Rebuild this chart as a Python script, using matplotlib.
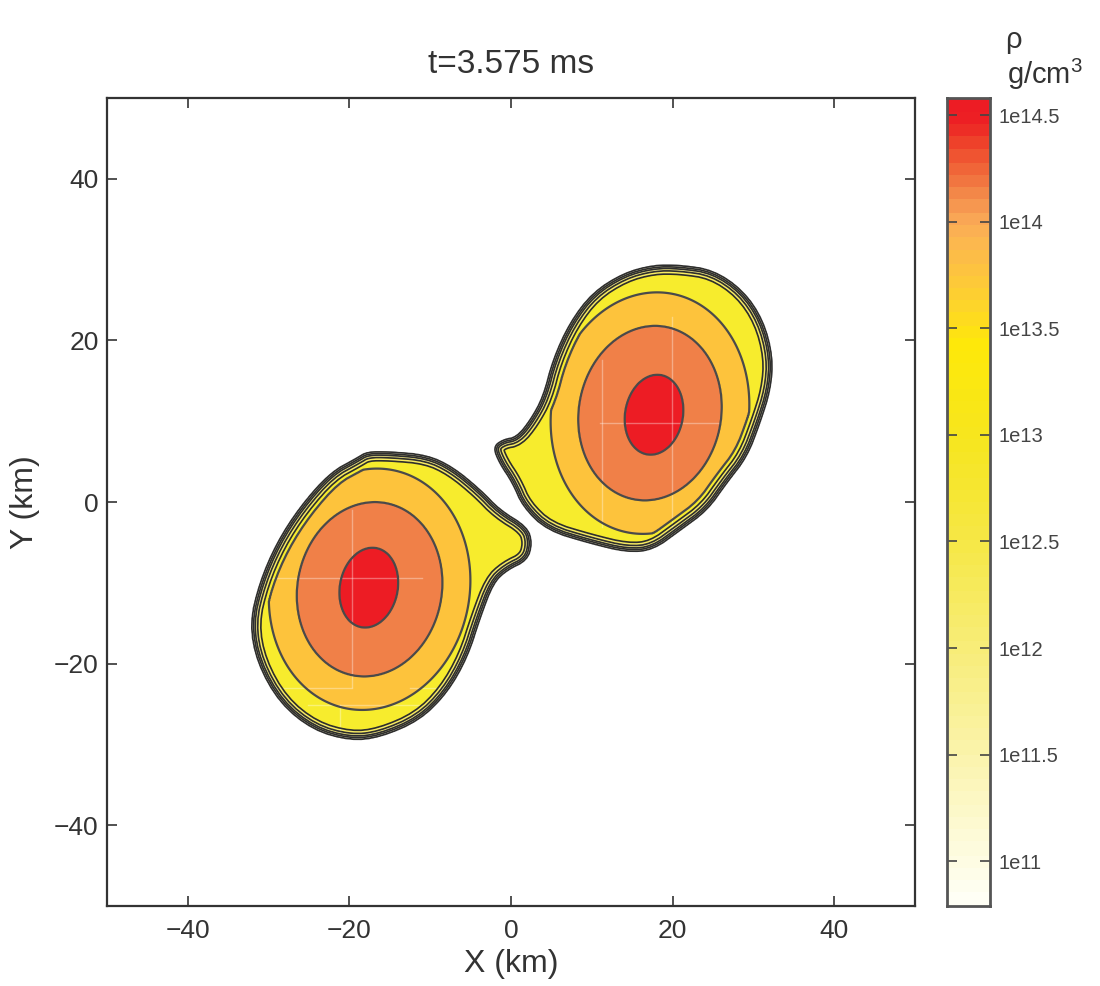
import numpy as np
import matplotlib
matplotlib.use("Agg")
import matplotlib.pyplot as plt
from matplotlib.path import Path
from matplotlib.colors import LinearSegmentedColormap

plt.rcParams['font.family'] = ['Liberation Sans', 'DejaVu Sans']
plt.rcParams['mathtext.fontset'] = 'custom'
plt.rcParams['mathtext.rm'] = 'Liberation Sans'
plt.rcParams['mathtext.it'] = 'Liberation Sans:italic'

# ---------------- data ----------------
title = "t=3.575 ms"
x_label = "X (km)"
y_label = "Y (km)"
axis_ticks = [-40, -20, 0, 20, 40]

# interior density ellipses of the two stars (km)
star_cx = [-17.5, 17.2]
star_cy = [-10.8, 11.0]
star_a = [14.9, 14.7]
star_b = [18.1, 18.1]
star_tilt = [11.0, 10.0]
# dense cores (km)
core_cx = [-17.6, 17.7]
core_cy = [-10.6, 10.8]
core_a = [13.8, 13.8]
core_b = [19.2, 19.2]

# outer surfaces (km)
outline1_x = [-17.8, -15.0, -10.4, -7.2, -3.8, -1.4, 2.0, 2.6, 2.0, -0.5, -2.2, -3.8,
              -5.4, -7.9, -11.3, -16.2, -19.9, -24.5, -28.6, -31.4, -32.3, -31.1,
              -29.0, -26.1, -22.4, -19.1]
outline1_y = [6.2, 6.2, 5.8, 4.3, 1.5, -1.0, -3.1, -5.1, -7.2, -8.4, -10.0, -14.2,
              -19.2, -23.6, -27.0, -29.1, -29.5, -28.2, -24.9, -19.9, -15.0, -10.0,
              -5.1, -0.6, 3.6, 5.4]
outline2_x = [20.9, 25.0, 28.7, 31.2, 32.4, 32.1, 30.8, 29.2, 26.7, 24.3, 20.9, 17.6,
              14.4, 9.8, 4.5, 1.5, 0.2, -1.4, -2.2, -1.0, 0.7, 2.4, 4.0, 5.2, 7.3,
              10.1, 13.9, 17.6]
outline2_y = [29.3, 28.7, 26.2, 22.5, 17.9, 13.9, 9.8, 5.6, 2.4, -1.0, -3.5, -5.9,
              -6.2, -5.1, -3.5, -0.6, 2.4, 4.8, 6.8, 7.7, 8.0, 10.1, 13.0, 17.6,
              22.2, 25.9, 28.3, 29.3]

# log10 density profiles
profile_q = [0.0, 0.26, 0.60, 0.83, 1.0, 1.5, 3.0]
profile_logrho = [14.62, 14.5, 14.2, 13.8, 13.5, 13.2, 13.1]
edge_d = [-0.6, 0.0, 0.2, 0.4, 0.7, 1.1, 3.0]
edge_logrho = [10.3, 11.0, 11.5, 12.0, 12.5, 13.0, 16.0]

# faint mesh-refinement boundaries (km): x0, x1, y0, y1
mesh_x0 = [-30.2, -19.7, -29.5, -25.1, -21.2, -12.5, 19.9, 11.0, 11.3]
mesh_x1 = [-11.0, -19.7, -19.7, -11.3, -21.2, -7.2, 19.9, 25.9, 11.3]
mesh_y0 = [-9.4, -1.0, -23.0, -25.1, -25.1, -23.0, 22.9, 9.8, 17.6]
mesh_y1 = [-9.4, -22.9, -23.0, -25.1, -29.5, -23.0, -5.9, 9.8, -3.1]

levels = [11.0, 11.5, 12.0, 12.5, 13.0, 13.8, 14.2, 14.5, 17.0]
band_colors = ['#fcf8d4', '#faf3ac', '#f8ee86', '#f8ec62', '#f7ec2d',
               '#fdc33c', '#f08048', '#ed1c24']

cbar_min, cbar_max = 10.79, 14.58
cbar_ticks = [11, 11.5, 12, 12.5, 13, 13.5, 14, 14.5]
cbar_ticklabels = ['1e11', '1e11.5', '1e12', '1e12.5', '1e13', '1e13.5', '1e14', '1e14.5']
cmap_pos = [10.79, 11.0, 11.5, 12.0, 12.5, 13.0, 13.2, 13.45, 13.6, 13.8, 13.95,
            14.05, 14.15, 14.25, 14.35, 14.42, 14.5, 14.58]
cmap_cols = ['#fffff5', '#fefce1', '#fbf4aa', '#f8ed78', '#f6e846', '#f7e61e',
             '#fae814', '#ffe80a', '#fed728', '#fdc341', '#fcb652', '#f9a456',
             '#f48a4a', '#f16d3c', '#ef5230', '#ee3a28', '#ed2024', '#ed1c24']

# ---------------- field construction ----------------
gx = np.linspace(-50, 50, 1001)
gy = np.linspace(-50, 50, 1001)
X, Y = np.meshgrid(gx, gy)
pts = np.column_stack([X.ravel(), Y.ravel()])


def chaikin(px, py, n_iter=2):
    P = np.column_stack([px, py])
    for _ in range(n_iter):
        Q = 0.75 * P + 0.25 * np.roll(P, -1, axis=0)
        R = 0.25 * P + 0.75 * np.roll(P, -1, axis=0)
        P = np.empty((2 * len(Q), 2))
        P[0::2] = Q
        P[1::2] = R
    return P[:, 0], P[:, 1]


def signed_distance(px, py):
    vx, vy = chaikin(np.asarray(px, float), np.asarray(py, float))
    path = Path(np.column_stack([vx, vy]))
    inside = path.contains_points(pts).reshape(X.shape)
    dmin = np.full(X.shape, np.inf)
    n = len(vx)
    for i in range(n):
        x0, y0 = vx[i], vy[i]
        x1, y1 = vx[(i + 1) % n], vy[(i + 1) % n]
        ex, ey = x1 - x0, y1 - y0
        L2 = ex * ex + ey * ey
        if L2 == 0:
            continue
        t = np.clip(((X - x0) * ex + (Y - y0) * ey) / L2, 0, 1)
        d = np.hypot(X - (x0 + t * ex), Y - (y0 + t * ey))
        dmin = np.minimum(dmin, d)
    return np.where(inside, dmin, -dmin)


def ellip_q(cx, cy, a, b, tilt):
    tr = np.deg2rad(tilt)
    dx, dy = X - cx, Y - cy
    v = dx * np.sin(tr) + dy * np.cos(tr)
    u = dx * np.cos(tr) - dy * np.sin(tr)
    return np.hypot(u / a, v / b)


field = np.full(X.shape, 10.0)
outlines = [(outline1_x, outline1_y), (outline2_x, outline2_y)]
for i in range(2):
    q_out = ellip_q(star_cx[i], star_cy[i], star_a[i], star_b[i], star_tilt[i])
    q_core = ellip_q(core_cx[i], core_cy[i], core_a[i], core_b[i], star_tilt[i])
    w = np.clip((0.5 - q_out) / 0.2, 0, 1)
    q = w * q_core + (1 - w) * q_out
    inner = np.interp(q, profile_q, profile_logrho)
    d = signed_distance(*outlines[i])
    edge = np.interp(d, edge_d, edge_logrho)
    field = np.maximum(field, np.minimum(inner, edge))

# ---------------- figure ----------------
fig = plt.figure(figsize=(11, 9.86), dpi=100)
ax = fig.add_axes([107 / 1100, 80 / 986, 808 / 1100, 808 / 986])
ax.contourf(X, Y, field, levels=levels, colors=band_colors)
for xa, xb, ya, yb in zip(mesh_x0, mesh_x1, mesh_y0, mesh_y1):
    ax.plot([xa, xb], [ya, yb], color='white', alpha=0.35, lw=1.0, zorder=2)
ax.contour(X, Y, field, levels=levels[5:-1], colors='#4a4a4a', linewidths=1.6, zorder=3)
ax.contour(X, Y, field, levels=levels[:5], colors='#2e2e2e', linewidths=1.2, zorder=3)

ax.set_xlim(-50, 50)
ax.set_ylim(-50, 50)
ax.set_xticks(axis_ticks)
ax.set_yticks(axis_ticks)
ax.tick_params(direction='in', length=7, width=1.2, top=True, right=True,
               labelsize=19, colors='#333333', pad=9)
ax.tick_params(axis='y', pad=6)
for sp in ax.spines.values():
    sp.set_linewidth(1.6)
    sp.set_color('#333333')
ax.set_title(title, fontsize=24, pad=18, color='#333333')
ax.set_xlabel(x_label, fontsize=23, color='#333333', labelpad=5)
ax.set_ylabel(y_label, fontsize=23, color='#333333', labelpad=10)

# colorbar
cax = fig.add_axes([947 / 1100, 80 / 986, 43 / 1100, 808 / 986])
cmap = LinearSegmentedColormap.from_list(
    'rho', list(zip([(p - cbar_min) / (cbar_max - cbar_min) for p in cmap_pos], cmap_cols)),
    N=64)
grad = np.linspace(cbar_min, cbar_max, 400).reshape(-1, 1)
cax.imshow(grad, aspect='auto', origin='lower', cmap=cmap,
           extent=[0, 1, cbar_min, cbar_max], vmin=cbar_min, vmax=cbar_max,
           interpolation='nearest')
cax.set_xlim(0, 1)
cax.set_ylim(cbar_min, cbar_max)
cax.set_xticks([])
cax.set_yticks(cbar_ticks)
cax.set_yticklabels(cbar_ticklabels)
cax.yaxis.tick_right()
cax.tick_params(axis='y', direction='in', length=7, width=1.2, left=True, right=True,
                labelsize=14.5, colors='#444444', pad=6)
for sp in cax.spines.values():
    sp.set_linewidth(2.0)
    sp.set_color('#555555')

fig.text(1013 / 1100, 1 - 40 / 986, "ρ", fontsize=21, color='#333333',
         ha='center', va='center')
fig.text(1045 / 1100, 1 - 74 / 986, "g/cm$^3$", fontsize=21, color='#333333',
         ha='center', va='center')

fig.savefig("out.png", dpi=100)
